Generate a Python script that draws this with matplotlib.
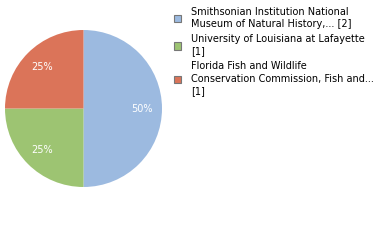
import matplotlib.pyplot as plt

labels = ["Smithsonian Institution National\nMuseum of Natural History,... [2]",
          "University of Louisiana at Lafayette\n[1]",
          "Florida Fish and Wildlife\nConservation Commission, Fish and...\n[1]"]
counts = [2, 1, 1]
colors = ['#9cbae0', '#9dc472', '#db7459']

fig = plt.figure(figsize=(3.8, 2.4), dpi=100)
ax = fig.add_axes([5/380, 1 - 187/240, 157/380, 157/240])
wedges, texts, autotexts = ax.pie(counts, colors=colors, startangle=90, counterclock=False,
                                  autopct='%d%%', pctdistance=0.75,
                                  textprops={'color': 'white', 'fontsize': 7})
ax.set_xlim(-1, 1)
ax.set_ylim(-1, 1)
ax.set_aspect('equal')

leg = fig.legend(wedges, labels, loc='upper left', bbox_to_anchor=(170/380, 1 - 3/240),
                 frameon=False, fontsize=7, handlelength=0.75, handleheight=0.75,
                 handletextpad=1.0, labelspacing=0.5, borderaxespad=0)
for t in leg.get_texts():
    t.set_linespacing(1.3)
for h in leg.legend_handles:
    h.set_edgecolor('#777777')
    h.set_linewidth(0.8)

fig.savefig('out.png', dpi=100)
